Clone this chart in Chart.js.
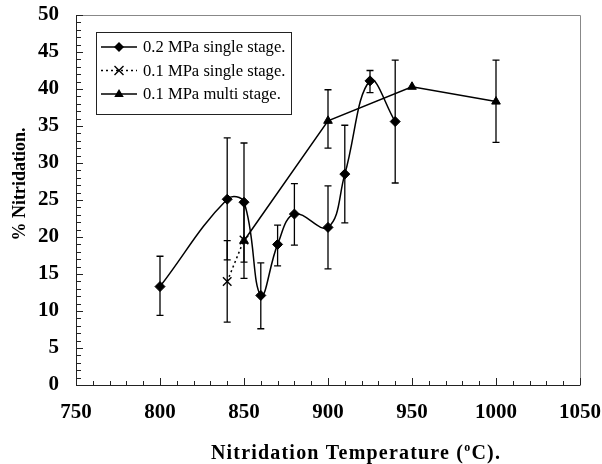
<!DOCTYPE html>
<html>
<head>
<meta charset="utf-8">
<script src="https://cdn.jsdelivr.net/npm/chart.js@4.4.1/dist/chart.umd.min.js"></script>
<style>
html,body{margin:0;padding:0;background:#fff;}
#c{display:block;}
</style>
</head>
<body>
<canvas id="c" width="602" height="464"></canvas>
<script>
// ---- data ----
const seriesNames = ["0.2 MPa single stage.", "0.1 MPa single stage.", "0.1 MPa multi stage."];
const xTickLabels = [750, 800, 850, 900, 950, 1000, 1050];
const yTickLabels = [0, 5, 10, 15, 20, 25, 30, 35, 40, 45, 50];

const temps1 = [800, 840, 850, 860, 870, 880, 900, 910, 925, 940];
const pct1   = [13.3, 25.1, 24.7, 12.1, 19.0, 23.1, 21.3, 28.5, 41.1, 35.6];
const hi1    = [17.4, 33.4, 32.7, 16.5, 21.6, 27.2, 26.9, 35.1, 42.5, 43.9];
const lo1    = [9.4, 16.9, 16.6, 7.6, 16.1, 18.9, 15.7, 21.9, 39.5, 27.3];

const temps2 = [840, 850];
const pct2   = [14.0, 19.6];
const hi2    = [19.5, 24.8];
const lo2    = [8.5, 14.4];

const temps3 = [850, 900, 950, 1000];
const pct3   = [19.5, 35.7, 40.3, 38.3];
const hi3    = [null, 39.9, null, 43.9];
const lo3    = [null, 32.0, null, 32.8];

const FONT = "'Liberation Serif', 'Times New Roman', serif";

function pts(xs, ys) { return xs.map((x, i) => ({ x: x, y: ys[i] })); }

const errorBars = {
  id: 'errorBars',
  afterDatasetsDraw(chart) {
    const ctx = chart.ctx, xs = chart.scales.x, ys = chart.scales.y;
    ctx.save();
    ctx.strokeStyle = '#000';
    ctx.lineWidth = 1.3;
    chart.data.datasets.forEach(ds => {
      if (!ds.errHi) return;
      ds.data.forEach((p, i) => {
        const h = ds.errHi[i], l = ds.errLo[i];
        if (h == null || l == null) return;
        const px = xs.getPixelForValue(p.x);
        const ph = ys.getPixelForValue(h), pl = ys.getPixelForValue(l);
        ctx.beginPath();
        ctx.moveTo(px, ph); ctx.lineTo(px, pl);
        ctx.moveTo(px - 3.5, ph); ctx.lineTo(px + 3.5, ph);
        ctx.moveTo(px - 3.5, pl); ctx.lineTo(px + 3.5, pl);
        ctx.stroke();
      });
    });
    ctx.restore();
  }
};

function drawMarker(ctx, style, x, y, r) {
  ctx.save();
  ctx.fillStyle = '#000'; ctx.strokeStyle = '#000'; ctx.lineWidth = 1.4;
  ctx.beginPath();
  if (style === 'rectRot') {
    ctx.moveTo(x, y - r); ctx.lineTo(x + r, y); ctx.lineTo(x, y + r); ctx.lineTo(x - r, y); ctx.closePath(); ctx.fill();
  } else if (style === 'triangle') {
    ctx.moveTo(x, y - r); ctx.lineTo(x + r * 0.95, y + r * 0.6); ctx.lineTo(x - r * 0.95, y + r * 0.6); ctx.closePath(); ctx.fill();
  } else {
    const d = r * 0.75;
    ctx.moveTo(x - d, y - d); ctx.lineTo(x + d, y + d);
    ctx.moveTo(x + d, y - d); ctx.lineTo(x - d, y + d); ctx.stroke();
  }
  ctx.restore();
}

const frameAndExtras = {
  id: 'frameAndExtras',
  afterDraw(chart) {
    const ctx = chart.ctx, a = chart.chartArea, xs = chart.scales.x, ys = chart.scales.y;
    ctx.save();
    // frame
    ctx.lineWidth = 1;
    ctx.strokeStyle = '#888';
    ctx.beginPath();
    ctx.moveTo(a.left, a.top + 0.5); ctx.lineTo(a.right + 0.5, a.top + 0.5); ctx.lineTo(a.right + 0.5, a.bottom);
    ctx.stroke();
    ctx.strokeStyle = '#222';
    ctx.beginPath();
    ctx.moveTo(a.left + 0.5, a.top); ctx.lineTo(a.left + 0.5, a.bottom + 0.5); ctx.lineTo(a.right + 0.5, a.bottom + 0.5);
    ctx.stroke();
    // ticks (inward)
    ctx.beginPath();
    for (let v = xs.min; v <= xs.max + 0.001; v += 10) {
      const px = Math.round(xs.getPixelForValue(v)) + 0.5;
      const len = (v % 50 === 0) ? 7 : 4;
      ctx.moveTo(px, a.bottom); ctx.lineTo(px, a.bottom - len);
    }
    for (let v = ys.min; v <= ys.max + 0.001; v += 1) {
      const py = Math.round(ys.getPixelForValue(v)) + 0.5;
      const len = (v % 5 === 0) ? 7 : 5;
      ctx.moveTo(a.left, py); ctx.lineTo(a.left + len, py);
    }
    ctx.stroke();

    // legend box
    const lx = 96, ly = 32, lw = 195, lh = 82;
    ctx.fillStyle = '#fff';
    ctx.fillRect(lx, ly, lw, lh);
    ctx.strokeStyle = '#222'; ctx.lineWidth = 1;
    ctx.strokeRect(lx + 0.5, ly + 0.5, lw, lh);
    const rowY = [47, 70.5, 94];
    chart.data.datasets.forEach((ds, i) => {
      const y = rowY[i];
      ctx.save();
      ctx.strokeStyle = '#000'; ctx.lineWidth = 1.5;
      ctx.setLineDash(ds.borderDash || []);
      ctx.beginPath(); ctx.moveTo(101, y); ctx.lineTo(137, y); ctx.stroke();
      ctx.restore();
      drawMarker(ctx, ds.pointStyle, 119, y, ds.pointRadius);
      ctx.fillStyle = '#000';
      ctx.font = "16.6px " + FONT;
      ctx.textBaseline = 'middle'; ctx.textAlign = 'left';
      ctx.fillText(ds.label, 143, y + 1);
    });

    // axis titles
    ctx.fillStyle = '#000';
    ctx.font = "bold 18px " + FONT;
    ctx.save();
    ctx.translate(20, 184);
    ctx.rotate(-Math.PI / 2);
    ctx.textAlign = 'center'; ctx.textBaseline = 'middle';
    ctx.fillText('% Nitridation.', 0, 0);
    ctx.restore();

    const p1 = 'Nitridation Temperature (', sup = 'o', p2 = 'C).';
    const ls = 1.2;
    ctx.letterSpacing = ls + 'px';
    ctx.font = "bold 20px " + FONT;
    const w1 = ctx.measureText(p1).width, w3 = ctx.measureText(p2).width;
    ctx.font = "bold 12px " + FONT;
    const w2 = ctx.measureText(sup).width;
    const total = w1 + w2 + w3;
    let x0 = 356 - total / 2;
    const base = 459;
    ctx.textAlign = 'left'; ctx.textBaseline = 'alphabetic';
    ctx.font = "bold 20px " + FONT;
    ctx.fillText(p1, x0, base);
    ctx.font = "bold 12px " + FONT;
    ctx.fillText(sup, x0 + w1, base - 8);
    ctx.font = "bold 20px " + FONT;
    ctx.fillText(p2, x0 + w1 + w2, base);
    ctx.letterSpacing = '0px';
    ctx.restore();
  }
};

new Chart(document.getElementById('c'), {
  type: 'line',
  data: {
    datasets: [
      {
        label: seriesNames[0], data: pts(temps1, pct1), errHi: hi1, errLo: lo1,
        borderColor: '#000', backgroundColor: '#000', borderWidth: 1.5,
        pointStyle: 'rectRot', pointRadius: 5, pointBorderWidth: 1,
        tension: 0.4
      },
      {
        label: seriesNames[1], data: pts(temps2, pct2), errHi: hi2, errLo: lo2,
        borderColor: '#000', backgroundColor: '#000', borderWidth: 1.5, borderDash: [2, 3],
        pointStyle: 'crossRot', pointRadius: 6, pointBorderWidth: 1.4,
        tension: 0
      },
      {
        label: seriesNames[2], data: pts(temps3, pct3), errHi: hi3, errLo: lo3,
        borderColor: '#000', backgroundColor: '#000', borderWidth: 1.5,
        pointStyle: 'triangle', pointRadius: 5, pointBorderWidth: 1,
        tension: 0
      }
    ]
  },
  options: {
    responsive: false,
    animation: false,
    devicePixelRatio: 1,
    layout: { padding: { left: 0, right: 22, top: 15, bottom: 0 } },
    plugins: { legend: { display: false }, tooltip: { enabled: false } },
    scales: {
      x: {
        type: 'linear', min: xTickLabels[0], max: xTickLabels[xTickLabels.length - 1],
        afterBuildTicks: s => { s.ticks = xTickLabels.map(v => ({ value: v })); },
        ticks: { color: '#000', font: { family: FONT, size: 21, weight: 'bold' }, padding: 15, maxRotation: 0, autoSkip: false,
                 callback: v => String(v) },
        grid: { display: false, drawTicks: false },
        border: { display: false },
        afterFit: s => { s.height = 79; s.paddingRight = 0; s.paddingLeft = 0; }
      },
      y: {
        type: 'linear', min: yTickLabels[0], max: yTickLabels[yTickLabels.length - 1],
        afterBuildTicks: s => { s.ticks = yTickLabels.map(v => ({ value: v })); },
        ticks: { color: '#000', font: { family: FONT, size: 21, weight: 'bold' }, padding: 17, autoSkip: false,
                 callback: v => String(v) },
        grid: { display: false, drawTicks: false },
        border: { display: false },
        afterFit: s => { s.width = 76; s.paddingTop = 0; s.paddingBottom = 0; }
      }
    }
  },
  plugins: [errorBars, frameAndExtras]
});
</script>
</body>
</html>
